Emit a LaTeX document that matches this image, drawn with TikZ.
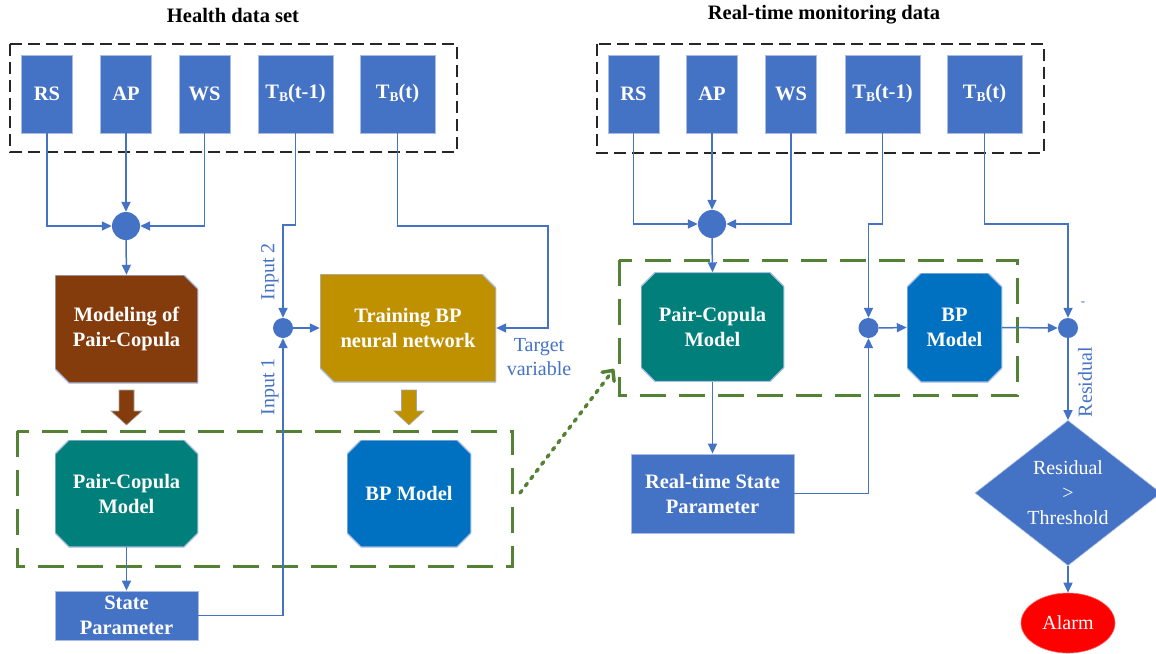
\documentclass[tikz,border=0pt]{standalone}
\usepackage{fontspec}
\setmainfont{Liberation Serif}
\usetikzlibrary{arrows.meta,shapes.geometric}
\definecolor{cblue}{HTML}{4472C4}
\definecolor{cbrown}{HTML}{843C0C}
\definecolor{cgold}{HTML}{BF9000}
\definecolor{cteal}{HTML}{007F7B}
\definecolor{cbp}{HTML}{0070C0}
\definecolor{cgreen}{HTML}{548235}
\definecolor{cedge}{HTML}{A9BCE3}
\begin{document}
\begin{tikzpicture}[x=1pt,y=-1pt,
  txt/.style={font=\fontsize{20.5}{25}\selectfont\bfseries, text=white, align=center, inner sep=0pt},
  inbox/.style={txt, rectangle, fill=cblue, draw=cedge, line width=0.8pt, minimum width=51pt, minimum height=78pt},
  bluebox/.style={txt, rectangle, fill=cblue, draw=cedge, line width=0.8pt},
  chamf/.style={txt, rectangle, path picture={
      \filldraw[fill=#1, draw=cedge, line width=1.2pt]
        (path picture bounding box.south east) --
        ([yshift=-14pt]path picture bounding box.north east) --
        ([xshift=-14pt]path picture bounding box.north east) --
        (path picture bounding box.north west) --
        ([yshift=14pt]path picture bounding box.south west) --
        ([xshift=14pt]path picture bounding box.south west) -- cycle;}},
  octo/.style={txt, rectangle, path picture={
      \filldraw[fill=#1, draw=cedge, line width=1.2pt]
        ([xshift=14pt]path picture bounding box.south west) --
        ([xshift=-14pt]path picture bounding box.south east) --
        ([yshift=14pt]path picture bounding box.south east) --
        ([yshift=-14pt]path picture bounding box.north east) --
        ([xshift=-14pt]path picture bounding box.north east) --
        ([xshift=14pt]path picture bounding box.north west) --
        ([yshift=-14pt]path picture bounding box.north west) --
        ([yshift=14pt]path picture bounding box.south west) -- cycle;}},
  dot/.style={circle, fill=cblue, inner sep=0pt},
  arr/.style={draw=cblue, line width=1.5pt, -{Triangle[length=10pt,width=9pt]}},
  lbl/.style={text=cblue, font=\fontsize{20}{24}\selectfont, align=center, inner sep=0pt},
  title/.style={font=\fontsize{20.5}{24}\selectfont\bfseries, inner sep=0pt},
  blackbox/.style={draw=black!85, line width=2pt, dash pattern=on 12pt off 6pt},
  greenbox/.style={draw=cgreen, line width=3pt, dash pattern=on 26pt off 13pt},
  blockarr/.style={draw=black!35, line width=0.6pt}
]
\useasboundingbox (0,0) rectangle (1156,653);
\newcommand{\TB}{T\raisebox{-2.5pt}{\fontsize{13.5}{13.5}\selectfont B}}

% titles
\node[title] (t1) at (233,15) {Health data set};
\node[title] (t2) at (824,15) {Real-time monitoring data};

% ---------------- left part ----------------
\draw[blackbox] (10,44) rectangle (457,152);
\node[inbox] (rs) at (47,94) {RS};
\node[inbox] (ap) at (126,94) {AP};
\node[inbox] (ws) at (204.5,94) {WS};
\node[inbox, minimum width=75pt] (tb1) at (295.5,94) {\TB(t-1)};
\node[inbox, minimum width=75pt] (tb2) at (397.5,94) {\TB(t)};

\node[dot, minimum size=28pt] (m1) at (126,226) {};
\node[chamf=cbrown, minimum width=143pt, minimum height=108pt] (mod) at (126.5,329) {Modeling of\\Pair-Copula};
\node[chamf=cgold, minimum width=176pt, minimum height=108pt] (train) at (408,328) {Training BP\\neural network};
\node[dot, minimum size=20pt] (s1) at (283,328) {};

\draw[greenbox] (17,431) rectangle (512,566);
\node[octo=cteal, minimum width=143pt, minimum height=107pt] (pcm) at (126.5,493.5) {Pair-Copula\\Model};
\node[octo=cbp, minimum width=124pt, minimum height=107pt] (bpm) at (409,493.5) {BP Model};
\node[bluebox, minimum width=143pt, minimum height=49pt] (sp) at (126.5,615.5) {State\\Parameter};

% block arrows
\filldraw[blockarr, fill=cbrown] (119,390) -- (134,390) -- (134,411) -- (142,411) -- (126.5,425) -- (111,411) -- (119,411) -- cycle;
\filldraw[blockarr, fill=cgold] (401.5,390) -- (416.5,390) -- (416.5,411) -- (424,411) -- (409,425) -- (394,411) -- (401.5,411) -- cycle;

% connectors left
\draw[arr] (rs.south) |- (m1.west);
\draw[arr] (ap.south) -- (m1.north);
\draw[arr] (ws.south) |- (m1.east);
\draw[arr] (m1.south) -- (mod.north);
\coordinate (j1) at (295.5,225);
\draw[arr] (tb1.south) -- (j1) -| (s1.north);
\draw[arr] (s1.east) -- (train.west);
\coordinate (j2) at (548,226);
\draw[arr] (tb2.south) |- (j2) |- (train.east);
\draw[arr] (pcm.south) -- (sp.north);
\draw[arr] (sp.east) -| (s1.south);

\node[lbl, rotate=90] (in2) at (270,272) {Input 2};
\node[lbl, rotate=90] (in1) at (270,387) {Input 1};
\node[lbl] (tv) at (539,357) {Target\\variable};

% ---------------- right part ----------------
\draw[blackbox] (597,44) rectangle (1044,153);
\node[inbox] (rs2) at (633.5,94) {RS};
\node[inbox] (ap2) at (712,94) {AP};
\node[inbox] (ws2) at (791,94) {WS};
\node[inbox, minimum width=75pt] (tbr1) at (882.5,94) {\TB(t-1)};
\node[inbox, minimum width=75pt] (tbr2) at (984.5,94) {\TB(t)};

\node[dot, minimum size=28pt] (m2) at (712,224) {};
\draw[greenbox] (619,260) rectangle (1017,395);
\node[octo=cteal, minimum width=143pt, minimum height=109pt] (pcm2) at (712.5,327) {Pair-Copula\\Model};
\node[octo=cbp, minimum width=95pt, minimum height=109pt] (bpm2) at (954.5,327.5) {BP\\Model};
\node[dot, minimum size=20pt] (s2) at (868.5,328) {};
\node[dot, minimum size=20pt] (s3) at (1068,328) {};
\node[bluebox, minimum width=163pt, minimum height=79pt] (rtsp) at (712.5,493.5) {Real-time State\\Parameter};
\node[diamond, fill=cblue, draw=cedge, line width=0.6pt, minimum width=186pt, minimum height=120pt, inner sep=0pt, text=white, font=\fontsize{20}{25}\selectfont, align=center] (dia) at (1068,493) {Residual\\>\\Threshold};
\node[ellipse, fill=red, draw=red!60, line width=0.6pt, minimum width=94pt, minimum height=60pt, inner sep=0pt, text=white, font=\fontsize{20}{24}\selectfont] (alarm) at (1068,623) {Alarm};

% connectors right
\draw[arr] (rs2.south) |- (m2.west);
\draw[arr] (ap2.south) -- (m2.north);
\draw[arr] (ws2.south) |- (m2.east);
\draw[arr] (m2.south) -- (pcm2.north);
\coordinate (j3) at (882.5,224);
\draw[arr] (tbr1.south) -- (j3) -| (s2.north);
\coordinate (j4) at (984.5,224);
\draw[arr] (tbr2.south) -- (j4) -| (s3.north);
\draw[arr] (pcm2.south) -- (rtsp.north);
\draw[arr] (rtsp.east) -| (s2.south);
\draw[arr] (s2.east) -- (bpm2.west);
\draw[arr] (bpm2.east) -- (s3.west);
\draw[arr] (s3.south) -- (dia.north);
\draw[arr] (dia.south) -- (alarm.north);

\node[lbl, font=\fontsize{13}{13}\selectfont] (minus) at (1083,304) {-};
\node[lbl, rotate=90] (resl) at (1085,382) {Residual};

% dotted link
\coordinate (d1) at (520,493);
\coordinate (d2) at (614,369);
\draw[cgreen, line width=3.5pt, line cap=round, dash pattern=on 3pt off 6pt, -{Straight Barb[length=8pt,width=15pt,round]}] (d1) -- (d2);
\end{tikzpicture}
\end{document}
